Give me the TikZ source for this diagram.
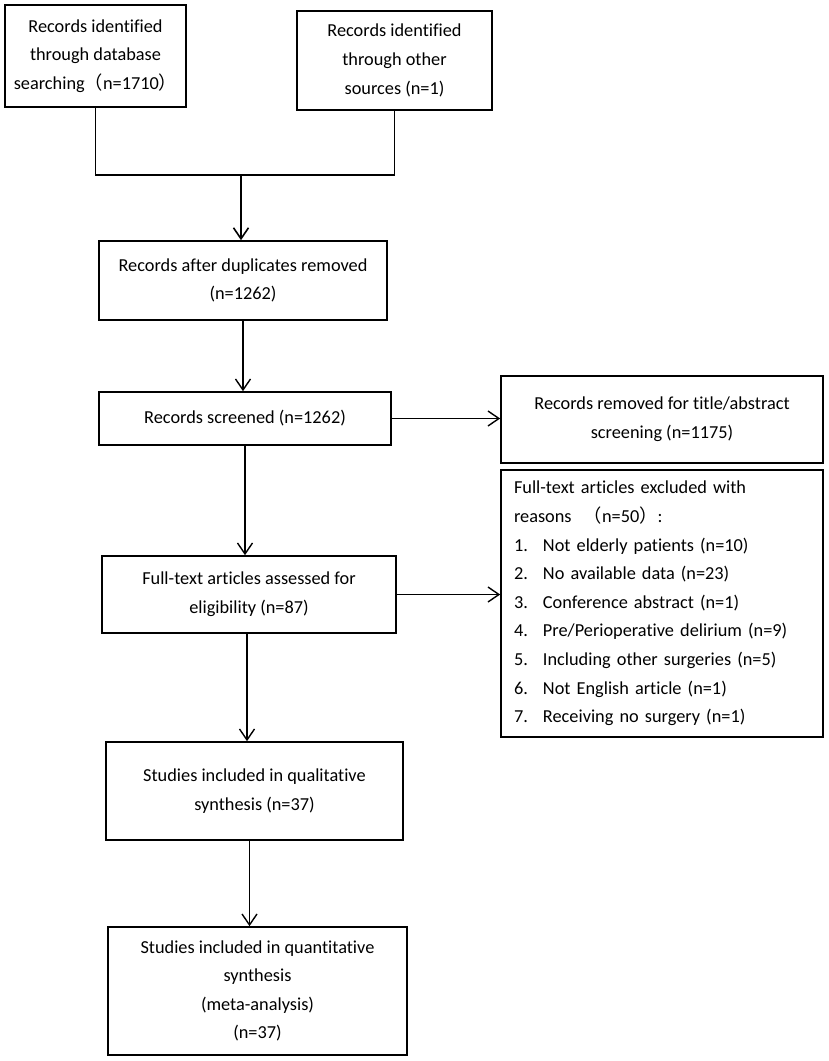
\documentclass[tikz,border=0pt]{standalone}
\usepackage{fontspec}
\setmainfont{Carlito}[Ligatures=NoCommon]
\newfontfamily\cjk{Noto Sans CJK SC}
\usetikzlibrary{arrows.meta}
\tikzset{
  box/.style={draw, line width=1.6pt, anchor=center, inner sep=0pt, align=center,
    font=\fontsize{18.3}{28.6}\selectfont},
  conn/.style={line width=1.4pt},
  arr/.style={line width=1.4pt, -{Straight Barb[length=11pt,width=15pt]}},
  bigarr/.style={line width=2.4pt, -{Straight Barb[length=11pt,width=15pt,line width=1.6pt]}}
}
\begin{document}
\begin{tikzpicture}[x=1pt,y=-1pt]
\useasboundingbox (0,0) rectangle (829,1061);
\node[box, minimum width=181pt, minimum height=102pt] (A) at (95.5,56)
  {Records identified\\through database\\searching{\cjk（}n=1710{\cjk）}};
\node[box, minimum width=195pt, minimum height=99pt] (B) at (394.5,60.5)
  {Records identified\\through other\\sources (n=1)};
\node[box, minimum width=288pt, minimum height=79pt] (C) at (243,280.5)
  {Records after duplicates removed\\(n=1262)};
\node[box, minimum width=292pt, minimum height=53pt] (D) at (245,418.5)
  {Records screened (n=1262)};
\node[box, minimum width=322pt, minimum height=87pt] (E) at (662,419.5)
  {Records removed for title/abstract\\screening (n=1175)};
\node[box, minimum width=322pt, minimum height=267pt, align=left, text width=296pt] (F) at (662,603.5)
  {\parbox{296pt}{Full-text articles excluded with\\
   reasons\ \ {\cjk（}n=50{\cjk）}:\\
   \makebox[29pt][l]{1.}Not elderly patients (n=10)\\
   \makebox[29pt][l]{2.}No available data (n=23)\\
   \makebox[29pt][l]{3.}Conference abstract (n=1)\\
   \makebox[29pt][l]{4.}Pre/Perioperative delirium (n=9)\\
   \makebox[29pt][l]{5.}Including other surgeries (n=5)\\
   \makebox[29pt][l]{6.}Not English article (n=1)\\
   \makebox[29pt][l]{7.}Receiving no surgery (n=1)}};
\node[box, minimum width=294pt, minimum height=77pt] (G) at (249,594.5)
  {Full-text articles assessed for\\eligibility (n=87)};
\node[box, minimum width=297pt, minimum height=98pt] (H) at (254.5,791)
  {Studies included in qualitative\\synthesis (n=37)};
\node[box, minimum width=299pt, minimum height=128pt] (I) at (257.5,991)
  {Studies included in quantitative\\synthesis\\(meta-analysis)\\(n=37)};
\coordinate (j) at (241,175);
\draw[conn] (A.south) -- (A.south |- j) -- (B.south |- j) -- (B.south);
\draw[bigarr] (j) -- (j |- C.north);
\draw[arr] (C.south) -- (C.south |- D.north);
\draw[arr] (D.east) -- (D.east -| E.west);
\draw[arr] (D.south) -- (D.south |- G.north);
\draw[arr] (G.east) -- (G.east -| F.west);
\draw[arr] ([xshift=-2pt]G.south) -- ([xshift=-2pt]G.south |- H.north);
\draw[arr] ([xshift=-5pt]H.south) -- ([xshift=-5pt]H.south |- I.north);
\end{tikzpicture}
\end{document}
